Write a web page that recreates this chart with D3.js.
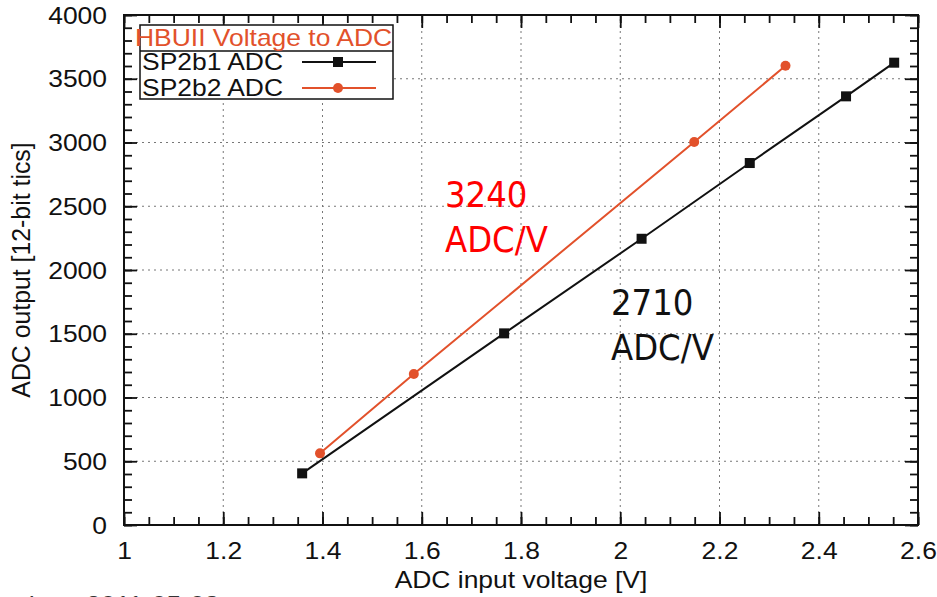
<!DOCTYPE html>
<html>
<head>
<meta charset="utf-8">
<script src="https://cdn.jsdelivr.net/npm/d3@7"></script>
<style>
  body { margin: 0; background: #fff; }
  svg { display: block; }
</style>
</head>
<body>
<div id="chart"></div>
<script>
'use strict'

// ---- data ----
const sp2b1Volt = [1.359, 1.766, 2.043, 2.261, 2.455, 2.552]
const sp2b1Adc  = [405, 1503, 2245, 2839, 3362, 3626]
const sp2b2Volt = [1.395, 1.584, 2.149, 2.333]
const sp2b2Adc  = [562, 1184, 3004, 3602]

const xTicks = [1, 1.2, 1.4, 1.6, 1.8, 2, 2.2, 2.4, 2.6]
const yTicks = [0, 500, 1000, 1500, 2000, 2500, 3000, 3500, 4000]
const xMinor = d3.range(1, 2.6001, 0.05)
const yMinor = d3.range(0, 4001, 100)

const seriesNames = ['SP2b1 ADC', 'SP2b2 ADC']
const legendTitle = 'HBUII Voltage to ADC'
const slopeLabels = [['3240', 'ADC/V'], ['2710', 'ADC/V']]

////////////////////////////////////
//////////// svg setup /////////////
////////////////////////////////////

const svgWidth = 937, svgHeight = 597
const black = '#111', orange = '#e2512b'
const font = '"Liberation Sans", Arial, sans-serif'
const stretch = 1.15

const svg = d3.select('#chart').append('svg')
    .attr('width', svgWidth)
    .attr('height', svgHeight)

const x = d3.scaleLinear().domain([1, 2.6]).range([124, 918])
const y = d3.scaleLinear().domain([0, 4000]).range([525, 15])

// grid (dotted)
const grid = svg.append('g').attr('stroke', '#777').attr('stroke-width', 1).attr('stroke-dasharray', '2,4')
grid.selectAll('.vg').data(xTicks.slice(1, -1)).join('line')
    .attr('x1', d => x(d)).attr('x2', d => x(d))
    .attr('y1', y(0)).attr('y2', y(4000))
grid.selectAll('.hg').data(yTicks.slice(1, -1)).join('line')
    .attr('y1', d => y(d)).attr('y2', d => y(d))
    .attr('x1', x(1)).attr('x2', x(2.6))

// axes: ticks pointing inward on all four sides
function ticks(axis, values, size) {
    return axis.tickValues(values).tickSize(-size).tickFormat('')
}
function styleAxis(g) {
    g.select('.domain').remove()
    g.selectAll('line').attr('stroke', black).attr('stroke-width', 1.8)
}

svg.append('g').attr('transform', `translate(0,${y(0)})`).call(ticks(d3.axisBottom(x), xMinor, 8)).call(styleAxis)
svg.append('g').attr('transform', `translate(0,${y(4000)})`).call(ticks(d3.axisTop(x), xMinor, 8)).call(styleAxis)
svg.append('g').attr('transform', `translate(${x(1)},0)`).call(ticks(d3.axisLeft(y), yMinor, 8)).call(styleAxis)
svg.append('g').attr('transform', `translate(${x(2.6)},0)`).call(ticks(d3.axisRight(y), yMinor, 8)).call(styleAxis)

const xAxis = svg.append('g').attr('transform', `translate(0,${y(0)})`)
    .call(d3.axisBottom(x).tickValues(xTicks).tickSize(-13).tickFormat(d3.format('')))
    .call(styleAxis)
svg.append('g').attr('transform', `translate(0,${y(4000)})`)
    .call(ticks(d3.axisTop(x), xTicks, 13)).call(styleAxis)
const yAxis = svg.append('g').attr('transform', `translate(${x(1)},0)`)
    .call(d3.axisLeft(y).tickValues(yTicks).tickSize(-13).tickFormat(d3.format('')))
    .call(styleAxis)
svg.append('g').attr('transform', `translate(${x(2.6)},0)`)
    .call(ticks(d3.axisRight(y), yTicks, 13)).call(styleAxis)

xAxis.attr('font-family', font).attr('font-size', 23)
xAxis.selectAll('text')
    .attr('y', null).attr('dy', null).attr('fill', black)
    .attr('text-anchor', 'middle')
    .attr('transform', `translate(0,34) scale(${stretch},1)`)
yAxis.attr('font-family', font).attr('font-size', 23)
yAxis.selectAll('text')
    .attr('x', null).attr('dy', null).attr('fill', black)
    .attr('text-anchor', 'end')
    .attr('transform', `translate(-17,8) scale(${stretch},1)`)

// frame
svg.append('rect')
    .attr('x', x(1)).attr('y', y(4000))
    .attr('width', x(2.6) - x(1)).attr('height', y(0) - y(4000))
    .attr('fill', 'none').attr('stroke', black).attr('stroke-width', 2)

// axis titles
svg.append('text')
    .attr('transform', `translate(${(x(1) + x(2.6)) / 2},588) scale(${stretch},1)`)
    .attr('text-anchor', 'middle')
    .style('font-family', font).style('font-size', '23px').style('fill', black)
    .text('ADC input voltage [V]')
svg.append('text')
    .attr('transform', `translate(30,270) rotate(-90) scale(1.08,${stretch})`)
    .attr('text-anchor', 'middle')
    .style('font-family', font).style('font-size', '23px').style('fill', black)
    .text('ADC output [12-bit tics]')

// date stamp, cut by the bottom edge
svg.append('text')
    .attr('transform', `translate(20,613) scale(${stretch},1)`)
    .style('font-family', font).style('font-size', '23px').style('fill', '#333')
    .text('date: 2011-05-03')

////////////////////////////////////
//////////// series ////////////////
////////////////////////////////////

const line = d3.line().x(d => x(d[0])).y(d => y(d[1]))
const s1 = d3.zip(sp2b1Volt, sp2b1Adc)
const s2 = d3.zip(sp2b2Volt, sp2b2Adc)

svg.append('path').datum(s2).attr('d', line)
    .attr('fill', 'none').attr('stroke', orange).attr('stroke-width', 2)
svg.append('path').datum(s1).attr('d', line)
    .attr('fill', 'none').attr('stroke', black).attr('stroke-width', 2)

svg.selectAll('.sq').data(s1).join('rect')
    .attr('x', d => x(d[0]) - 5).attr('y', d => y(d[1]) - 5)
    .attr('width', 10).attr('height', 10).attr('fill', black)
svg.selectAll('.dot').data(s2).join('circle')
    .attr('cx', d => x(d[0])).attr('cy', d => y(d[1]))
    .attr('r', 5).attr('fill', orange)

// slope annotations
const annFont = '"DejaVu Sans Condensed", "DejaVu Sans", sans-serif'
const annPos = [[445, 207, 'red'], [611, 315, black]]
slopeLabels.forEach((lines, i) => {
    const t = svg.append('text')
        .style('font-family', annFont).style('font-size', '36px')
        .style('fill', annPos[i][2])
    lines.forEach((s, j) => {
        t.append('tspan').attr('x', annPos[i][0]).attr('y', annPos[i][1] + j * 45).text(s)
    })
})

////////////////////////////////////
//////////// legend ////////////////
////////////////////////////////////

const legend = svg.append('g')
legend.append('rect')
    .attr('x', 140).attr('y', 25).attr('width', 253).attr('height', 74)
    .attr('fill', '#fff').attr('stroke', black).attr('stroke-width', 1.5)
legend.append('line')
    .attr('x1', 140).attr('x2', 393).attr('y1', 51).attr('y2', 51)
    .attr('stroke', black).attr('stroke-width', 1.5)
legend.append('text')
    .attr('transform', `translate(135,46) scale(${stretch},1)`)
    .style('font-family', font).style('font-size', '23px').style('fill', orange)
    .text(legendTitle)

const legColors = [black, orange]
seriesNames.forEach((name, i) => {
    const cy = 62 + i * 26
    legend.append('text')
        .attr('transform', `translate(142,${cy + 8}) scale(${stretch},1)`)
        .style('font-family', font).style('font-size', '23px').style('fill', black)
        .text(name)
    legend.append('line')
        .attr('x1', 302).attr('x2', 376).attr('y1', cy).attr('y2', cy)
        .attr('stroke', legColors[i]).attr('stroke-width', 2)
    if (i === 0) {
        legend.append('rect').attr('x', 333).attr('y', cy - 5).attr('width', 10).attr('height', 10).attr('fill', black)
    } else {
        legend.append('circle').attr('cx', 338).attr('cy', cy).attr('r', 5).attr('fill', orange)
    }
})
</script>
</body>
</html>
